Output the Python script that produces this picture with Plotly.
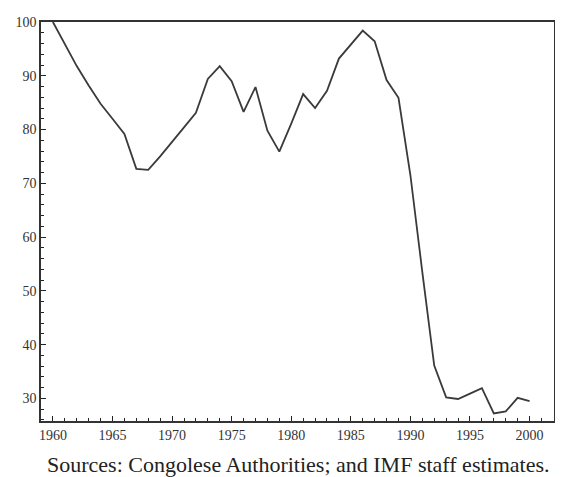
import plotly.graph_objects as go

years = list(range(1960, 2001))
index_values = [
    100.0, 95.8, 91.8, 88.2, 84.8, 82.0, 79.2, 72.7, 72.5, 75.0,
    77.6, 80.4, 83.1, 89.4, 91.8, 89.0, 83.3, 87.9, 79.8, 75.9,
    81.1, 86.6, 84.0, 87.2, 93.2, 95.7, 98.4, 96.4, 89.2, 85.9,
    71.5, 53.5, 36.1, 30.2, 29.9, 30.9, 31.9, 27.2, 27.6, 30.1,
    29.5,
]
x_tick_vals = [1960, 1965, 1970, 1975, 1980, 1985, 1990, 1995, 2000]
y_tick_vals = [30, 40, 50, 60, 70, 80, 90, 100]
caption = "Sources: Congolese Authorities; and IMF staff estimates."

SERIF = "Liberation Serif, Times New Roman, Times, serif"

fig = go.Figure()
fig.add_trace(go.Scatter(
    x=years, y=index_values, mode="lines",
    line=dict(color="#3a3a3a", width=1.8),
    showlegend=False,
))

tick_font = dict(family=SERIF, size=14, color="#333333")

fig.update_xaxes(
    range=[1959, 2002.05],
    tickvals=x_tick_vals,
    ticks="inside", ticklen=5, tickwidth=1.3, tickcolor="#222222",
    minor=dict(dtick=1, tick0=1960, ticks="inside", ticklen=3, tickwidth=1.2, tickcolor="#222222"),
    showline=True, linecolor="#333333", linewidth=1.6, mirror=True,
    showgrid=False, zeroline=False,
    tickfont=tick_font,
)
fig.update_yaxes(
    range=[25.8, 100],
    tickvals=y_tick_vals,
    ticks="inside", ticklen=5, tickwidth=1.3, tickcolor="#222222",
    minor=dict(dtick=2, tick0=30, ticks="inside", ticklen=3, tickwidth=1.2, tickcolor="#222222"),
    showline=True, linecolor="#333333", linewidth=1.6, mirror=True,
    showgrid=False, zeroline=False,
    tickfont=tick_font,
)

fig.add_annotation(
    text=caption, xref="paper", yref="paper",
    x=0.008, y=-0.108, xanchor="left", yanchor="middle",
    showarrow=False,
    font=dict(family=SERIF, size=22, color="#222222"),
)

fig.update_layout(
    width=555, height=469,
    margin=dict(l=28, r=9, t=7, b=56),
    paper_bgcolor="white", plot_bgcolor="white",
    font=dict(family=SERIF),
)

fig.write_html("out.html")
